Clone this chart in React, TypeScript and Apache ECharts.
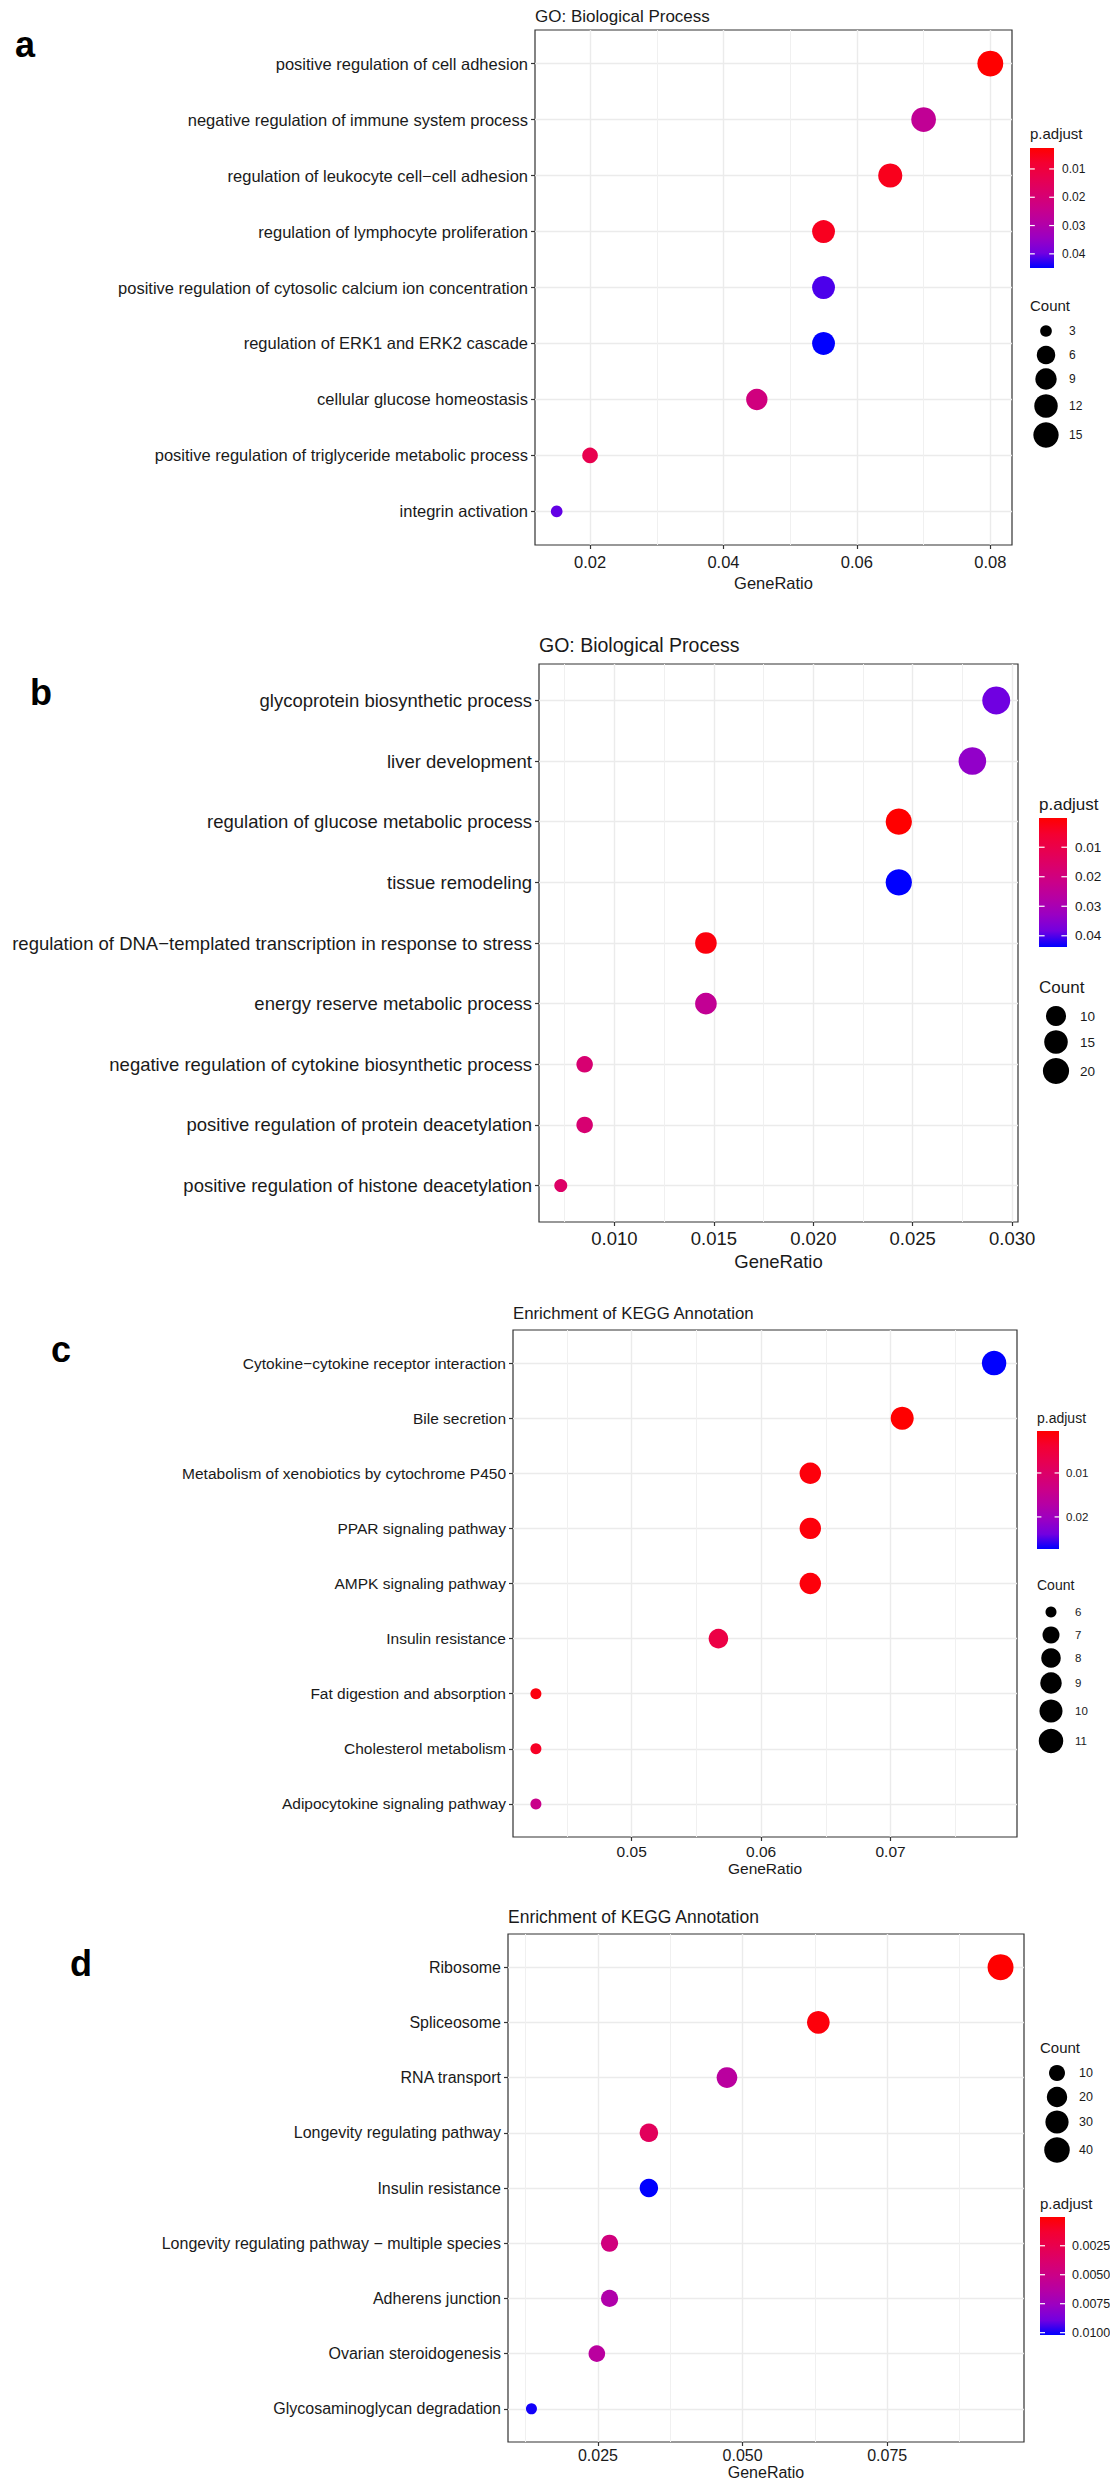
import React, { useEffect, useRef } from 'react';
import * as echarts from 'echarts';

// ---------------- DATA ----------------
// Panel a – GO: Biological Process
const termsA = [
  'positive regulation of cell adhesion',
  'negative regulation of immune system process',
  'regulation of leukocyte cell\u2212cell adhesion',
  'regulation of lymphocyte proliferation',
  'positive regulation of cytosolic calcium ion concentration',
  'regulation of ERK1 and ERK2 cascade',
  'cellular glucose homeostasis',
  'positive regulation of triglyceride metabolic process',
  'integrin activation',
];
const ratioA = [0.08, 0.07, 0.065, 0.055, 0.055, 0.055, 0.045, 0.02, 0.015];
const countA = [16, 14, 13, 11, 11, 11, 9, 4, 3];
const padjA = [0.0026, 0.026, 0.0056, 0.006, 0.0415, 0.045, 0.0217, 0.013, 0.0405];
const xTicksA = ['0.02', '0.04', '0.06', '0.08'];
const padjTicksA = ['0.01', '0.02', '0.03', '0.04'];
const countTicksA = ['3', '6', '9', '12', '15'];

// Panel b – GO: Biological Process
const termsB = [
  'glycoprotein biosynthetic process',
  'liver development',
  'regulation of glucose metabolic process',
  'tissue remodeling',
  'regulation of DNA\u2212templated transcription in response to stress',
  'energy reserve metabolic process',
  'negative regulation of cytokine biosynthetic process',
  'positive regulation of protein deacetylation',
  'positive regulation of histone deacetylation',
];
const ratioB = [0.0292, 0.028, 0.0243, 0.0243, 0.0146, 0.0146, 0.0085, 0.0085, 0.0073];
const countB = [24, 23, 20, 20, 12, 12, 7, 7, 6];
const padjB = [0.0385, 0.034, 0.0001, 0.0438, 0.0015, 0.024, 0.0175, 0.0175, 0.0153];
const xTicksB = ['0.010', '0.015', '0.020', '0.025', '0.030'];
const padjTicksB = ['0.01', '0.02', '0.03', '0.04'];
const countTicksB = ['10', '15', '20'];

// Panel c – Enrichment of KEGG Annotation
const termsC = [
  'Cytokine\u2212cytokine receptor interaction',
  'Bile secretion',
  'Metabolism of xenobiotics by cytochrome P450',
  'PPAR signaling pathway',
  'AMPK signaling pathway',
  'Insulin resistance',
  'Fat digestion and absorption',
  'Cholesterol metabolism',
  'Adipocytokine signaling pathway',
];
const ratioC = [0.078, 0.0709, 0.0638, 0.0638, 0.0638, 0.0567, 0.0426, 0.0426, 0.0426];
const countC = [11, 10, 9, 9, 9, 8, 6, 6, 6];
const padjC = [0.0273, 0.00045, 0.0012, 0.0012, 0.0012, 0.006, 0.0015, 0.003, 0.014];
const xTicksC = ['0.05', '0.06', '0.07'];
const padjTicksC = ['0.01', '0.02'];
const countTicksC = ['6', '7', '8', '9', '10', '11'];

// Panel d – Enrichment of KEGG Annotation
const termsD = [
  'Ribosome',
  'Spliceosome',
  'RNA transport',
  'Longevity regulating pathway',
  'Insulin resistance',
  'Longevity regulating pathway \u2212 multiple species',
  'Adherens junction',
  'Ovarian steroidogenesis',
  'Glycosaminoglycan degradation',
];
const ratioD = [0.0946, 0.0631, 0.0473, 0.0338, 0.0338, 0.027, 0.027, 0.0248, 0.0135];
const countD = [42, 28, 21, 15, 15, 12, 12, 11, 6];
const padjD = [0.00002, 0.0003, 0.0061, 0.0031, 0.0102, 0.0046, 0.0066, 0.0061, 0.01];
const xTicksD = ['0.025', '0.050', '0.075'];
const padjTicksD = ['0.0025', '0.0050', '0.0075', '0.0100'];
const countTicksD = ['10', '20', '30', '40'];

// red -> blue gradient (Lab interpolated like ggplot)
const gradient = ['#FF0000', '#F40031', '#E8004F', '#DA006C', '#CA0089', '#B500A5', '#9A00C3', '#7300E0', '#0000FF'];

// ---------------- LAYOUT ----------------
const FONT = "'Liberation Sans', Arial, Helvetica, sans-serif";

const panels = [
  {
    letter: 'a', letterX: 15, letterY: 44, title: 'GO: Biological Process', titleY: 16, titleFont: 17,
    terms: termsA, ratio: ratioA, count: countA, padj: padjA, xTicks: xTicksA, xStep: 0.02,
    padjTicks: padjTicksA, countTicks: countTicksA,
    grid: { left: 535, top: 30, width: 477, height: 515 },
    font: 16.5, labelMargin: 8, nameGap: 29, dmin: 11.7, dmax: 25.9,
    leg: { padjTitleY: 133, barX: 1030, barY: 148, barW: 24, barH: 120, padjLabelX: 1062,
      countTitleY: 305, countY: [331, 355, 379, 406, 435], circleX: 1046, countLabelX: 1069,
      titleFont: 15, labelFont: 12 },
  },
  {
    letter: 'b', letterX: 30, letterY: 692, title: 'GO: Biological Process', titleY: 645, titleFont: 19.5,
    terms: termsB, ratio: ratioB, count: countB, padj: padjB, xTicks: xTicksB, xStep: 0.005,
    padjTicks: padjTicksB, countTicks: countTicksB,
    grid: { left: 539, top: 664, width: 479, height: 558 },
    font: 18.5, labelMargin: 7, nameGap: 30, dmin: 13, dmax: 28,
    leg: { padjTitleY: 804, barX: 1039, barY: 818, barW: 28, barH: 129, padjLabelX: 1075,
      countTitleY: 987, countY: [1016, 1042, 1071], circleX: 1056, countLabelX: 1080,
      titleFont: 17, labelFont: 13.5 },
  },
  {
    letter: 'c', letterX: 51, letterY: 1349, title: 'Enrichment of KEGG Annotation', titleY: 1313, titleFont: 16.8,
    terms: termsC, ratio: ratioC, count: countC, padj: padjC, xTicks: xTicksC, xStep: 0.01,
    padjTicks: padjTicksC, countTicks: countTicksC,
    grid: { left: 513, top: 1330, width: 504, height: 507 },
    font: 15.5, labelMargin: 6, nameGap: 23, dmin: 11, dmax: 24.5,
    leg: { padjTitleY: 1418, barX: 1037, barY: 1431, barW: 22, barH: 118, padjLabelX: 1066,
      countTitleY: 1585, countY: [1612, 1635, 1658, 1683, 1711, 1741], circleX: 1051, countLabelX: 1075,
      titleFont: 14, labelFont: 11.5 },
  },
  {
    letter: 'd', letterX: 70, letterY: 1963, title: 'Enrichment of KEGG Annotation', titleY: 1917, titleFont: 17.5,
    terms: termsD, ratio: ratioD, count: countD, padj: padjD, xTicks: xTicksD, xStep: 0.025,
    padjTicks: padjTicksD, countTicks: countTicksD,
    grid: { left: 508, top: 1934, width: 516, height: 508 },
    font: 16, labelMargin: 5, nameGap: 22, dmin: 11, dmax: 26,
    leg: { padjTitleY: 2203, barX: 1040, barY: 2217, barW: 25, barH: 118, padjLabelX: 1072,
      countTitleY: 2047, countY: [2073, 2097, 2122, 2150], circleX: 1057, countLabelX: 1079,
      titleFont: 15, labelFont: 12.5 },
  },
];

type Panel = typeof panels[number];

const sizeOf = (p: Panel, c: number) => {
  const cmin = Math.min(...p.count);
  const cmax = Math.max(...p.count);
  return p.dmin + (p.dmax - p.dmin) * Math.sqrt(Math.max(0, (c - cmin) / (cmax - cmin)));
};

const buildOption = () => {
  const grid: any[] = [];
  const xAxis: any[] = [];
  const yAxis: any[] = [];
  const series: any[] = [];
  const visualMap: any[] = [];
  const graphic: any[] = [];

  panels.forEach((p, i) => {
    const xmin0 = Math.min(...p.ratio);
    const xmax0 = Math.max(...p.ratio);
    const pad = (xmax0 - xmin0) * 0.05;
    const pmin = Math.min(...p.padj);
    const pmax = Math.max(...p.padj);
    const tickVals = p.xTicks.map(Number);
    const idx = p.terms.map((_, k) => k);

    grid.push({ ...p.grid, show: true, borderColor: '#333333', borderWidth: 1.2, backgroundColor: 'transparent', containLabel: false, outerBoundsMode: 'none' });

    xAxis.push({
      type: 'value', gridIndex: i, min: xmin0 - pad, max: xmax0 + pad,
      minInterval: p.xStep, maxInterval: p.xStep,
      axisLine: { show: false, onZero: false },
      axisTick: { show: true, length: 4, customValues: tickVals, lineStyle: { color: '#333333', width: 1.2 } },
      axisLabel: {
        customValues: tickVals, margin: p.labelMargin, fontSize: p.font, fontFamily: FONT, color: '#1A1A1A',
        formatter: (v: number) => {
          const hit = p.xTicks.find((t) => Math.abs(Number(t) - v) < 1e-9);
          return hit ?? '';
        },
      },
      splitLine: { show: true, lineStyle: { color: '#EBEBEB', width: 1.4 } },
      minorTick: { show: false, splitNumber: 2 },
      minorSplitLine: { show: true, lineStyle: { color: '#F0F0F0', width: 1 } },
      name: 'GeneRatio', nameLocation: 'middle', nameGap: p.nameGap,
      nameTextStyle: { fontSize: p.font, fontFamily: FONT, color: '#1A1A1A' },
    });

    yAxis.push({
      type: 'value', gridIndex: i, min: -0.6, max: p.terms.length - 1 + 0.6, inverse: true,
      axisLine: { show: false, onZero: false },
      axisTick: { show: true, length: 4, customValues: idx, lineStyle: { color: '#333333', width: 1.2 } },
      axisLabel: {
        customValues: idx, margin: 7, fontSize: p.font, fontFamily: FONT, color: '#1A1A1A',
        formatter: (v: number) => p.terms[Math.round(v)] ?? '',
      },
      splitLine: { show: true, lineStyle: { color: '#EBEBEB', width: 1.4 } },
    });

    series.push({
      type: 'scatter', xAxisIndex: i, yAxisIndex: i, silent: true, z: 5,
      data: p.ratio.map((r, k) => [r, k, p.count[k], p.padj[k]]),
      symbolSize: (val: number[]) => sizeOf(p, val[2]),
      itemStyle: { opacity: 1 },
    });

    visualMap.push({
      type: 'continuous', show: false, seriesIndex: i, dimension: 3, min: pmin, max: pmax,
      inRange: { color: gradient },
    });

    // panel letter
    graphic.push({
      type: 'text', x: p.letterX, y: p.letterY,
      style: { text: p.letter, font: `bold 36px ${FONT}`, fill: '#000', align: 'left', verticalAlign: 'middle' },
    });
    // title
    graphic.push({
      type: 'text', x: p.grid.left, y: p.titleY,
      style: { text: p.title, font: `${p.titleFont}px ${FONT}`, fill: '#1A1A1A', align: 'left', verticalAlign: 'middle' },
    });

    const L = p.leg;
    // p.adjust colourbar
    graphic.push({
      type: 'text', x: L.barX, y: L.padjTitleY,
      style: { text: 'p.adjust', font: `${L.titleFont}px ${FONT}`, fill: '#1A1A1A', align: 'left', verticalAlign: 'middle' },
    });
    graphic.push({
      type: 'rect', shape: { x: L.barX, y: L.barY, width: L.barW, height: L.barH },
      style: {
        fill: {
          type: 'linear', x: 0, y: 0, x2: 0, y2: 1,
          colorStops: gradient.map((c, k) => ({ offset: k / (gradient.length - 1), color: c })),
        },
      },
    });
    p.padjTicks.forEach((t) => {
      const y = L.barY + ((Number(t) - pmin) / (pmax - pmin)) * L.barH;
      const tl = L.barW / 5;
      graphic.push({ type: 'line', shape: { x1: L.barX, y1: y, x2: L.barX + tl, y2: y }, style: { stroke: '#FFFFFF', lineWidth: 1.2 } });
      graphic.push({ type: 'line', shape: { x1: L.barX + L.barW - tl, y1: y, x2: L.barX + L.barW, y2: y }, style: { stroke: '#FFFFFF', lineWidth: 1.2 } });
      graphic.push({
        type: 'text', x: L.padjLabelX, y,
        style: { text: t, font: `${L.labelFont}px ${FONT}`, fill: '#1A1A1A', align: 'left', verticalAlign: 'middle' },
      });
    });
    // Count legend
    graphic.push({
      type: 'text', x: L.barX, y: L.countTitleY,
      style: { text: 'Count', font: `${L.titleFont}px ${FONT}`, fill: '#1A1A1A', align: 'left', verticalAlign: 'middle' },
    });
    p.countTicks.forEach((t, k) => {
      const y = L.countY[k];
      graphic.push({ type: 'circle', shape: { cx: L.circleX, cy: y, r: sizeOf(p, Number(t)) / 2 }, style: { fill: '#000' } });
      graphic.push({
        type: 'text', x: L.countLabelX, y,
        style: { text: t, font: `${L.labelFont}px ${FONT}`, fill: '#1A1A1A', align: 'left', verticalAlign: 'middle' },
      });
    });
  });

  return {
    animation: false,
    backgroundColor: '#FFFFFF',
    grid, xAxis, yAxis, series, visualMap, graphic,
  };
};

export default function App() {
  const ref = useRef<HTMLDivElement>(null);
  useEffect(() => {
    document.body.style.margin = '0';
    if (!ref.current) return;
    const chart = echarts.init(ref.current, undefined, { renderer: 'svg' });
    chart.setOption(buildOption() as any);
    return () => chart.dispose();
  }, []);
  return <div ref={ref} style={{ width: 1110, height: 2479 }} />;
}
